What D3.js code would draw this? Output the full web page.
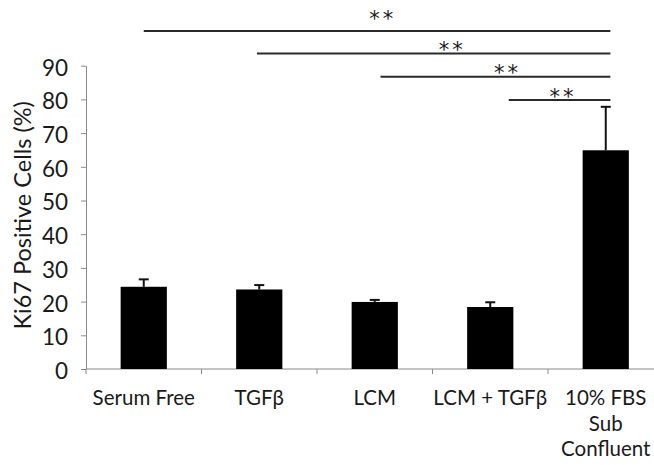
<!DOCTYPE html>
<html>
<head>
<meta charset="utf-8">
<script src="https://cdn.jsdelivr.net/npm/d3@7"></script>
<style>
  body { margin: 0; background: #fff; }
  text { font-family: Lato, "Noto Sans", sans-serif; fill: #1a1a1a; }
</style>
</head>
<body>
<div id="grafiekContainer"></div>
<script>

// data uit de figuur
var categorieen = ["Serum Free", "TGFβ", "LCM", "LCM + TGFβ", "10% FBS Sub Confluent"];
var labelRegels = [["Serum Free"], ["TGFβ"], ["LCM"], ["LCM + TGFβ"], ["10% FBS", "Sub", "Confluent"]];
var waarden = [24.4, 23.6, 19.9, 18.4, 64.9];
var foutmarges = [2.2, 1.3, 0.6, 1.4, 12.9];
var yTicks = [0, 10, 20, 30, 40, 50, 60, 70, 80, 90];

// significantie balken (start in categorie-eenheden, hoogte in %)
var balkVan = [0, 0.98, 2.05, 3.16];
var balkTot = [4.04, 4.04, 4.04, 4.04];
var balkNiveau = [100.3, 93.6, 86.7, 79.8];
var sterPositie = [2.07, 2.67, 3.15, 3.63];
var sterNiveau = [105.3, 96.1, 89.3, 82.1];
var sterTekst = ["**", "**", "**", "**"];

var breedte = 654;
var hoogte = 465;

// marges vast leggen
var marge = {boven: 65.7, beneden: 96, rechts: -9.5, links: 86};

var svg = d3.select("#grafiekContainer")
            .append("svg")
            .attr("width", breedte)
            .attr("height", hoogte);

// schaal voor de categorieen
var x = d3.scaleBand()
          .domain(categorieen)
          .range([marge.links, breedte - marge.rechts])
          .paddingInner(0.6)
          .paddingOuter(0.3);

// schaal voor de percentages
var y = d3.scaleLinear()
          .domain([0, 90])
          .range([hoogte - marge.beneden, marge.boven]);

// positie in categorie-eenheden (0 = midden eerste balk)
var xIndex = d3.scaleLinear()
               .domain([0, 1])
               .range([x(categorieen[0]) + x.bandwidth() / 2,
                       x(categorieen[1]) + x.bandwidth() / 2]);

// y-as
var asY = d3.axisLeft(y)
            .tickValues(yTicks)
            .tickSize(5)
            .tickPadding(13)
            .tickSizeOuter(0);

var yAs = svg.append("g")
             .attr("class", "yAs")
             .attr("transform", "translate(" + marge.links + ",0)")
             .call(asY);

yAs.selectAll("line, path").attr("stroke", "#8a8a8a");
yAs.selectAll("text")
   .attr("font-size", "22.5px")
   .attr("dy", "0.42em")
   .style("font-family", "Lato, sans-serif")
   .attr("fill", "#1a1a1a");

// titel y-as
svg.append("text")
   .attr("transform", "translate(31," + ((y(0) + y(90)) / 2 - 2) + ") rotate(-90)")
   .attr("text-anchor", "middle")
   .attr("font-size", "23.5px")
   .text("Ki67 Positive Cells (%)");

// x-as lijn en streepjes tussen de categorieen
svg.append("line")
   .attr("x1", marge.links)
   .attr("x2", breedte)
   .attr("y1", y(0))
   .attr("y2", y(0))
   .attr("stroke", "#8a8a8a");

svg.selectAll(".xStreep")
   .data(categorieen)
   .enter()
   .append("line")
   .attr("class", "xStreep")
   .attr("x1", function(d) { return x(d) - x.step() * x.paddingInner() / 2; })
   .attr("x2", function(d) { return x(d) - x.step() * x.paddingInner() / 2; })
   .attr("y1", y(0))
   .attr("y2", y(0) + 5)
   .attr("stroke", "#8a8a8a");

// labels onder de balken
var labels = svg.selectAll(".xLabel")
                .data(categorieen)
                .enter()
                .append("text")
                .attr("class", "xLabel")
                .attr("text-anchor", "middle")
                .attr("font-size", "20.5px")
                .attr("transform", function(d) {
                  return "translate(" + (x(d) + x.bandwidth() / 2) + "," + (y(0) + 36) + ")"; });

labels.selectAll("tspan")
      .data(function(d, i) { return labelRegels[i]; })
      .enter()
      .append("tspan")
      .attr("x", 0)
      .attr("y", function(d, i) { return i * 25.5; })
      .text(function(d) { return d; });

// de balken
svg.selectAll(".balk")
   .data(categorieen)
   .enter()
   .append("rect")
   .attr("class", "balk")
   .attr("x", function(d) { return x(d); })
   .attr("width", x.bandwidth())
   .attr("y", function(d, i) { return y(waarden[i]); })
   .attr("height", function(d, i) { return y(0) - y(waarden[i]); })
   .attr("fill", "#000");

// foutbalken
var fout = svg.selectAll(".fout")
              .data(categorieen)
              .enter()
              .append("g")
              .attr("class", "fout")
              .attr("stroke", "#111")
              .attr("stroke-width", 2);

fout.append("line")
    .attr("x1", function(d) { return x(d) + x.bandwidth() / 2; })
    .attr("x2", function(d) { return x(d) + x.bandwidth() / 2; })
    .attr("y1", function(d, i) { return y(waarden[i]); })
    .attr("y2", function(d, i) { return y(waarden[i] + foutmarges[i]); });

fout.append("line")
    .attr("x1", function(d) { return x(d) + x.bandwidth() / 2 - 5; })
    .attr("x2", function(d) { return x(d) + x.bandwidth() / 2 + 5; })
    .attr("y1", function(d, i) { return y(waarden[i] + foutmarges[i]); })
    .attr("y2", function(d, i) { return y(waarden[i] + foutmarges[i]); });

// significantie lijnen
svg.selectAll(".sigLijn")
   .data(balkVan)
   .enter()
   .append("line")
   .attr("class", "sigLijn")
   .attr("x1", function(d) { return xIndex(d); })
   .attr("x2", function(d, i) { return xIndex(balkTot[i]); })
   .attr("y1", function(d, i) { return y(balkNiveau[i]); })
   .attr("y2", function(d, i) { return y(balkNiveau[i]); })
   .attr("stroke", "#2a2a2a")
   .attr("stroke-width", 2);

// sterretjes
svg.selectAll(".ster")
   .data(sterTekst)
   .enter()
   .append("text")
   .attr("class", "ster")
   .attr("text-anchor", "middle")
   .attr("font-size", "21px")
   .style("font-family", "'DejaVu Sans', sans-serif")
   .attr("x", function(d, i) { return xIndex(sterPositie[i]); })
   .attr("y", function(d, i) { return y(sterNiveau[i]) + 12; })
   .attr("letter-spacing", "3px")
   .text(function(d) { return d; });

</script>
</body>
</html>
